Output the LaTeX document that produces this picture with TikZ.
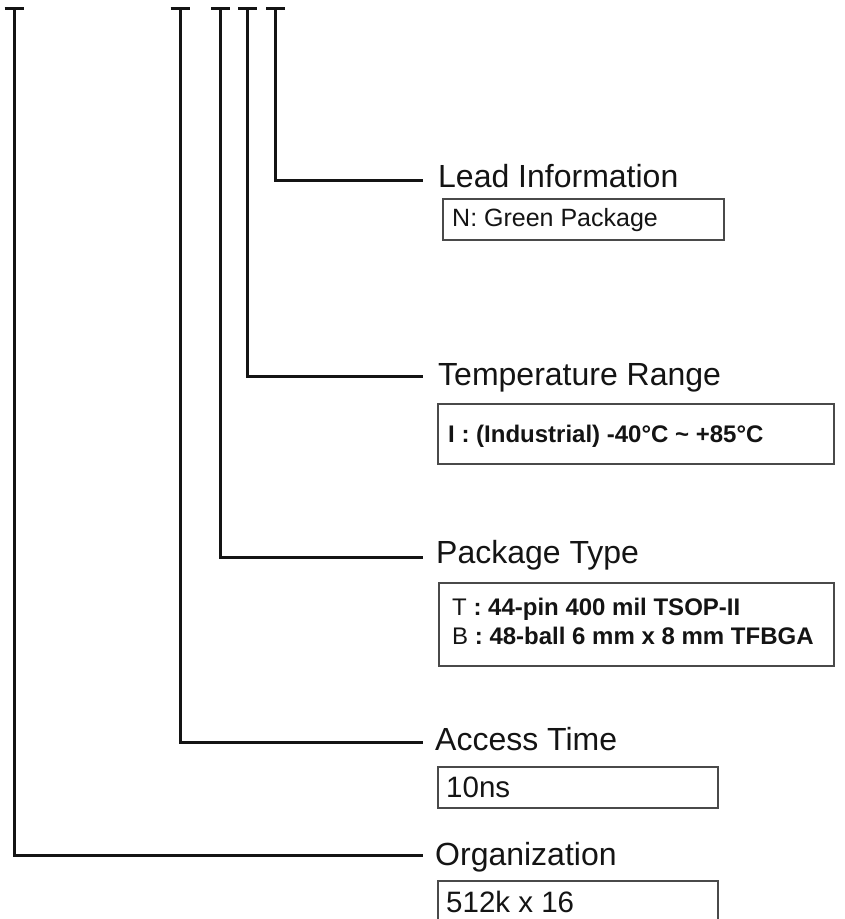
\documentclass[tikz,border=0pt]{standalone}
\usepackage{fontspec}
\setmainfont{Liberation Sans}
\definecolor{ink}{HTML}{141414}
\definecolor{boxline}{HTML}{4A4A4A}
\begin{document}
\begin{tikzpicture}[x=1pt,y=-1pt,
  conn/.style={draw=ink, line width=3pt},
  tbar/.style={draw=ink, line width=3pt},
  lbl/.style={anchor=base west, inner sep=0pt, text=ink, font=\fontsize{32}{37}\selectfont},
  optbox/.style={draw=boxline, line width=1.8pt, anchor=north west, inner sep=0pt},
  opttext/.style={anchor=base west, inner sep=0pt, text=ink, font=\fontsize{24}{29}\selectfont, align=left},
  bigtext/.style={anchor=base west, inner sep=0pt, text=ink, font=\fontsize{29.5}{34}\selectfont}]
\useasboundingbox[fill=white] (0,0) rectangle (845,919);

% top tick coordinates
\coordinate (t1) at (14,8);
\coordinate (t2) at (180,8);
\coordinate (t3) at (220.5,8);
\coordinate (t4) at (247.5,8);
\coordinate (t5) at (275.5,8);
\foreach \t in {t1,t2,t3,t4,t5}
  \draw[tbar] ([xshift=-9.5pt]\t) -- ([xshift=9.5pt]\t);

% labels
\node[lbl] (lead) at (438,187) {Lead Information};
\node[lbl] (temp) at (438,385) {Temperature Range};
\node[lbl] (pkg)  at (436,563) {Package Type};
\node[lbl] (acc)  at (435,750.5) {Access Time};
\node[lbl] (org)  at (435,865) {Organization};

% option boxes
\node[optbox, minimum width=281pt, minimum height=41pt] (leadbox) at (442,198) {};
\node[opttext, font=\fontsize{25}{29}\selectfont] (leadtxt) at (452,226) {N: Green Package};

\node[optbox, minimum width=396pt, minimum height=60pt] (tempbox) at (437,403) {};
\node[opttext] (temptxt) at (448,442.5) {\bfseries I : (Industrial) -40°C \char"007E{} +85°C};

\node[optbox, minimum width=395pt, minimum height=83pt] (pkgbox) at (438,582) {};
\node[opttext] (pkgtxt1) at (452,615) {T\bfseries{} : 44-pin 400 mil TSOP-II};
\node[opttext] (pkgtxt2) at (452,644) {B\bfseries{} : 48-ball 6 mm x 8 mm TFBGA};

\node[optbox, minimum width=280pt, minimum height=41pt] (accbox) at (437,766) {};
\node[bigtext] (acctxt) at (446,797) {10ns};

\node[optbox, minimum width=280pt, minimum height=41pt] (orgbox) at (437,880) {};
\node[bigtext] (orgtxt) at (446,912) {512k x 16};

% connectors
\draw[conn] (t5) |- ([xshift=-15pt,yshift=7pt]lead.base west);
\draw[conn] (t4) |- ([xshift=-15pt,yshift=9pt]temp.base west);
\draw[conn] (t3) |- ([xshift=-13pt,yshift=6pt]pkg.base west);
\draw[conn] (t2) |- ([xshift=-12pt,yshift=8pt]acc.base west);
\draw[conn] (t1) |- ([xshift=-12pt,yshift=10pt]org.base west);
\end{tikzpicture}
\end{document}
